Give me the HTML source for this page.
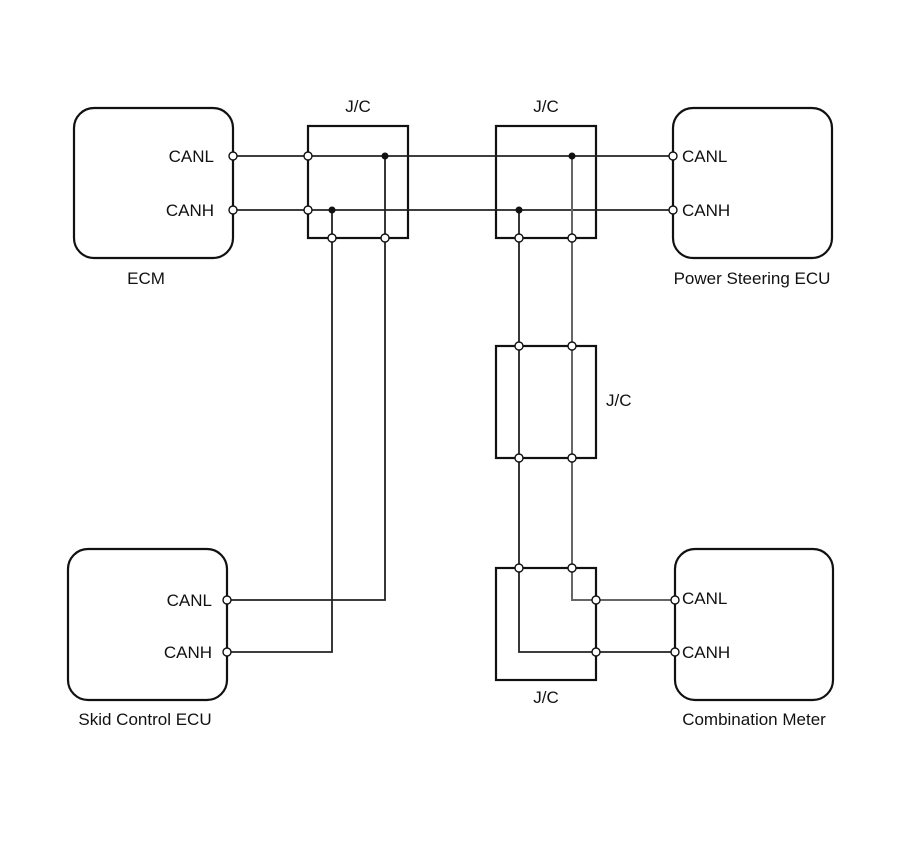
<!DOCTYPE html>
<html><head><meta charset="utf-8"><style>
html,body{margin:0;padding:0;background:#fff;}
svg{display:block;}
text{font-family:"Liberation Sans",Arial,sans-serif;font-size:17px;fill:#111;}
</style></head><body>
<svg width="907" height="866" viewBox="0 0 907 866" xmlns="http://www.w3.org/2000/svg">
<g fill="none" stroke="#111" stroke-width="2.2">
<rect x="74" y="108" width="159" height="150" rx="20"/>
<rect x="673" y="108" width="159" height="150" rx="20"/>
<rect x="68" y="549" width="159" height="151" rx="20"/>
<rect x="675" y="549" width="158" height="151" rx="20"/>
<rect x="308" y="126" width="100" height="112"/>
<rect x="496" y="126" width="100" height="112"/>
<rect x="496" y="346" width="100" height="112"/>
<rect x="496" y="568" width="100" height="112"/>
</g>
<g fill="none" stroke="#222" stroke-width="1.8">
<line x1="233" y1="156" x2="673" y2="156"/>
<line x1="233" y1="210" x2="673" y2="210"/>
<polyline points="332,210 332,652 227,652"/>
<polyline points="385,156 385,600 227,600"/>
<line x1="519" y1="210" x2="519" y2="568"/>
<polyline points="519,568 519,652 675,652"/>
</g>
<g fill="none" stroke="#666" stroke-width="2">
<line x1="572" y1="156" x2="572" y2="568"/>
<polyline points="572,568 572,600 675,600"/>
</g>
<g fill="#111">
<circle cx="385" cy="156" r="3.5"/><circle cx="332" cy="210" r="3.5"/>
<circle cx="572" cy="156" r="3.5"/><circle cx="519" cy="210" r="3.5"/>
</g>
<g fill="#fff" stroke="#111" stroke-width="1.4">
<circle cx="233" cy="156" r="4"/><circle cx="233" cy="210" r="4"/>
<circle cx="308" cy="156" r="4"/><circle cx="308" cy="210" r="4"/>
<circle cx="332" cy="238" r="4"/><circle cx="385" cy="238" r="4"/>
<circle cx="673" cy="156" r="4"/><circle cx="673" cy="210" r="4"/>
<circle cx="519" cy="238" r="4"/><circle cx="572" cy="238" r="4"/>
<circle cx="519" cy="346" r="4"/><circle cx="572" cy="346" r="4"/>
<circle cx="519" cy="458" r="4"/><circle cx="572" cy="458" r="4"/>
<circle cx="519" cy="568" r="4"/><circle cx="572" cy="568" r="4"/>
<circle cx="596" cy="600" r="4"/><circle cx="596" cy="652" r="4"/>
<circle cx="675" cy="600" r="4"/><circle cx="675" cy="652" r="4"/>
<circle cx="227" cy="600" r="4"/><circle cx="227" cy="652" r="4"/>
</g>
<text x="214" y="162" text-anchor="end">CANL</text>
<text x="214" y="216" text-anchor="end">CANH</text>
<text x="682" y="162">CANL</text>
<text x="682" y="216">CANH</text>
<text x="212" y="606" text-anchor="end">CANL</text>
<text x="212" y="658" text-anchor="end">CANH</text>
<text x="682" y="604">CANL</text>
<text x="682" y="658">CANH</text>
<text x="146" y="284" text-anchor="middle">ECM</text>
<text x="752" y="284" text-anchor="middle">Power Steering ECU</text>
<text x="145" y="725" text-anchor="middle">Skid Control ECU</text>
<text x="754" y="725" text-anchor="middle">Combination Meter</text>
<text x="358" y="112" text-anchor="middle">J/C</text>
<text x="546" y="112" text-anchor="middle">J/C</text>
<text x="606" y="406">J/C</text>
<text x="546" y="703" text-anchor="middle">J/C</text>
</svg>
</body></html>
